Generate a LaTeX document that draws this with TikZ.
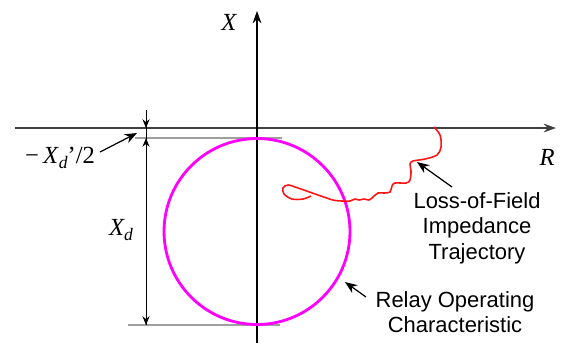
\documentclass[tikz,border=0pt]{standalone}
\usepackage{fontspec}
\setmainfont{Liberation Sans}
\newfontfamily\timesfont{Liberation Serif}
\usetikzlibrary{arrows.meta,positioning}

\definecolor{relaymag}{RGB}{255,0,255}
\definecolor{lofred}{RGB}{255,20,20}

\tikzset{
  lbl/.style={font=\fontsize{12.5}{14.5}\selectfont, align=center, inner sep=0pt},
  sym/.style={font=\timesfont\itshape\fontsize{14}{16}\selectfont, inner sep=0pt},
  guide/.style={gray!75, line width=0.8pt},
  pointer/.style={-{Stealth[length=7pt,width=5.5pt]}, line width=0.7pt},
  axis/.style={-{Stealth[length=7pt,width=5pt]}},
  dim/.style={line width=0.5pt, {Stealth[length=5pt,width=4pt]}-{Stealth[length=5pt,width=4pt]}},
}
\newcommand{\subd}{\raisebox{-0.45ex}{\fontsize{10}{10}\selectfont\textit{d}}}

\begin{document}
\begin{tikzpicture}[x=0.02cm, y=-0.02cm, >=stealth]
\useasboundingbox (0,0) rectangle (563,343);

% axes
\coordinate (rl) at (15,128);
\coordinate (rr) at (556,128);
\coordinate (xb) at (257,343);
\coordinate (xt) at (257,11);
\draw[axis, line width=0.8pt, black!75] (rl) -- (rr);
\draw[axis, line width=0.6pt] (xb) -- (xt);
\node[sym] (xlab) at (229,22) {X};
\node[sym] (rlab) at (547,157) {R};

% guide lines at top and bottom of circle
\coordinate (gt1) at (135,138);
\coordinate (gt2) at (282,138);
\coordinate (gb1) at (128,325);
\coordinate (gb2) at (280,325);
\draw[guide] (gt1) -- (gt2);
\draw[guide] (gb1) -- (gb2);

% dimension lines
\coordinate (d0) at (146,110);
\coordinate (d1) at (146,128);
\coordinate (d2) at (146,138);
\coordinate (d3) at (146,325);
\draw[line width=0.5pt] (d0) -- (d3);
\draw[line width=0.5pt, -{Stealth[length=5pt,width=4pt]}] (d0) -- (d1);
\draw[dim] (d2) -- (d3);

% offset and diameter labels
\node[font=\timesfont\fontsize{14}{16}\selectfont, inner sep=0pt] (offlab) at (60,158)
  {−\,\textit{X}\subd’/2};
\coordinate (offtail) at (100,152);
\coordinate (offtip) at (137,133);
\draw[pointer] (offtail) -- (offtip);
\node[sym] (xdlab) at (121,230) {X\subd};

% relay operating characteristic
\coordinate (cc) at (257,231.5);
\draw[relaymag, line width=1.6pt] (cc) circle[radius=1.86cm];

% loss-of-field trajectory
\draw[lofred, line width=0.9pt] plot[smooth, tension=0.55] coordinates {
  (434,127) (440,135) (441,147) (437,155) (425,159) (413,161) (410,164)
  (411,171) (410,180) (406,183) (395,183) (392,186) (390,192) (384,193)
  (378,193) (373,197) (369,200) (364,199) (359,200) (355,199) (350,201)
  (342,201) (333,200) (318,195) (298,188) (288,185) (283,188) (284,194)
  (292,199) (303,199) (311,196)};

% labels with pointers
\node[lbl] (loflab) at (477,228) {Loss-of-Field\\Impedance\\Trajectory};
\coordinate (loftail) at (452,187);
\coordinate (loftip) at (417,162);
\draw[pointer] (loftail) -- (loftip);

\node[lbl] (rellab) at (455,312) {Relay Operating\\Characteristic};
\coordinate (reltail) at (366,297);
\coordinate (reltip) at (345,282);
\draw[pointer] (reltail) -- (reltip);

\end{tikzpicture}
\end{document}
